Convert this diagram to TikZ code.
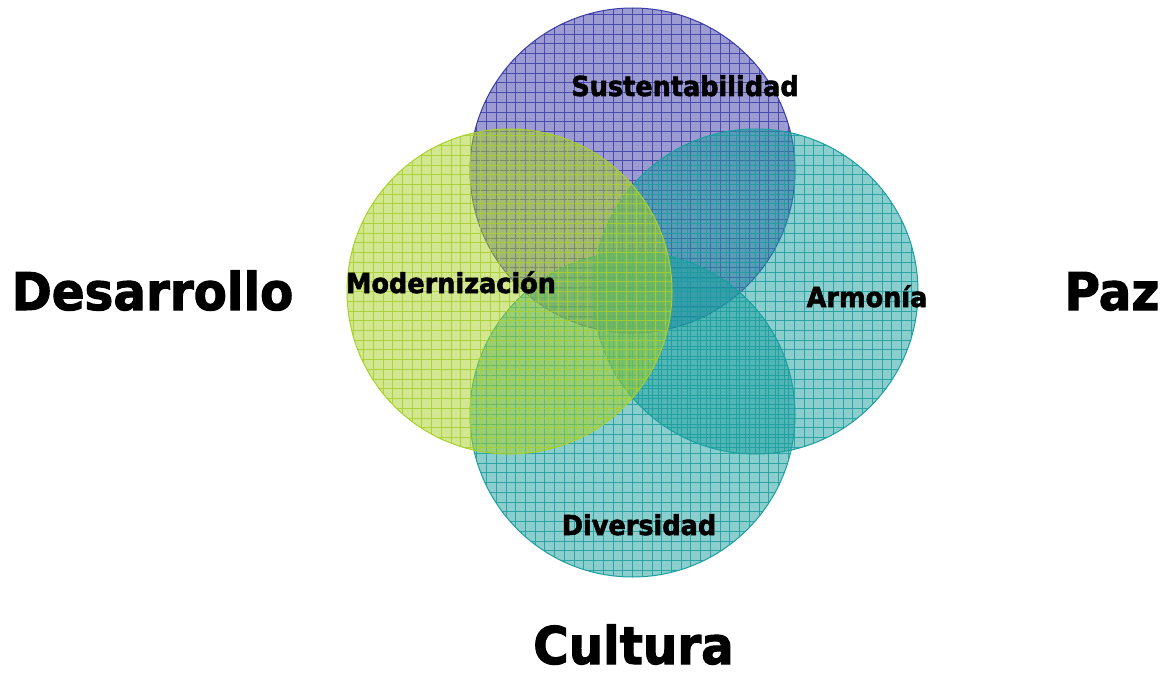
\documentclass[tikz,border=0pt]{standalone}
\usepackage{fontspec}
\usepackage{xcolor}
\usepackage{tikz}
\newfontfamily\heavyfont{DejaVu Sans Bold}[FakeStretch=0.93, FakeBold=2]
\definecolor{purplearea}{HTML}{3A3AA8}
\definecolor{tealarea}{HTML}{1A9E9E}
\definecolor{greenarea}{HTML}{A8D028}

\begin{document}
\begin{tikzpicture}[x=0.75pt, y=-0.75pt,
    circlearea/.style={circle, draw=#1, line width=0.75pt, fill=#1, fill opacity=0.5, inner sep=0pt, minimum size=243.75pt,
        path picture={\draw[#1, opacity=0.85, line width=0.7pt, step=7.3pt] (path picture bounding box.south west) grid (path picture bounding box.north east);}},
    biglabel/.style={inner sep=0pt, anchor=base, font=\heavyfont\fontsize{39pt}{44pt}\selectfont},
    smalllabel/.style={inner sep=0pt, anchor=base, font=\heavyfont\fontsize{20.6pt}{24pt}\selectfont},]
            \useasboundingbox (0,0) rectangle (1167,674);
            %Circles
            \node[circlearea=purplearea](topcircle) at (632.5,170.5){};
            \node[circlearea=tealarea](rightcircle) at (755.5,291.5){};
            \node[circlearea=tealarea](bottomcircle) at (632.5,414.5){};
            \node[circlearea=greenarea](leftcircle) at (509.5,291.5){};

            %Inner labels
            \node[smalllabel](sustentabilidad) at (685,96){Sustentabilidad};
            \node[smalllabel](modernizacion) at (451,293){Modernización};
            \node[smalllabel](armonia) at (867,307){Armonía};
            \node[smalllabel](diversidad) at (639,535){Diversidad};

            %Outer labels
            \node[biglabel](desarrollo) at (152.5,310){Desarrollo};
            \node[biglabel](paz) at (1112,310){Paz};
            \node[biglabel](cultura) at (633.5,664){Cultura};
        \end{tikzpicture}
\end{document}
